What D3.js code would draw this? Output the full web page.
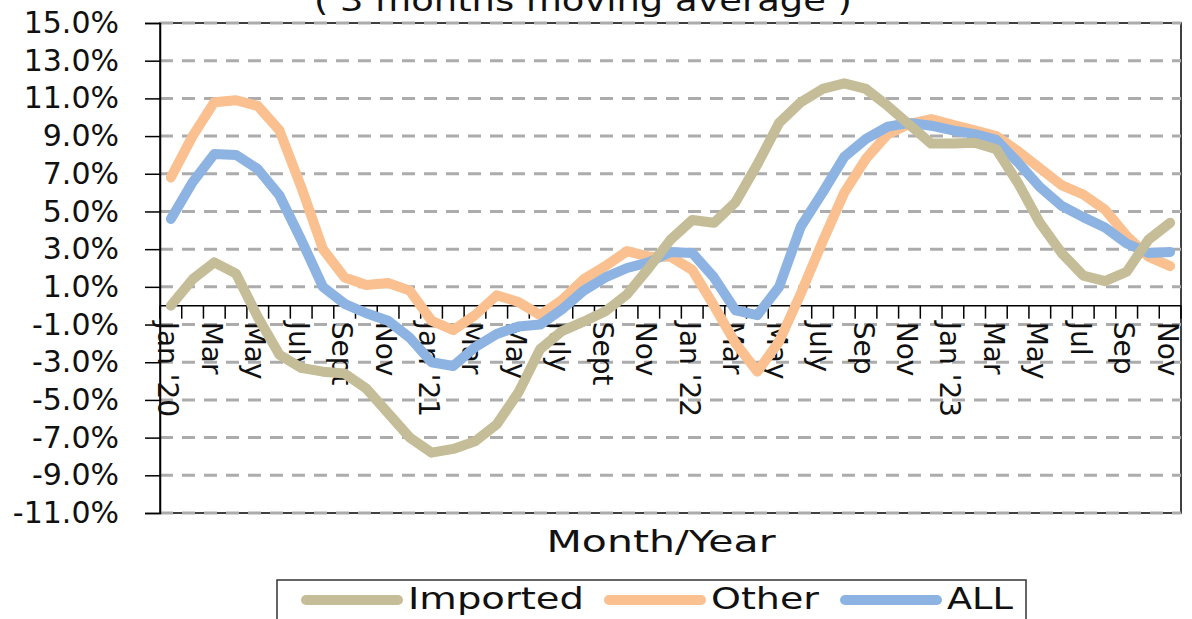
<!DOCTYPE html>
<html>
<head>
<meta charset="utf-8">
<script src="https://cdn.jsdelivr.net/npm/d3@7"></script>
<style>
  html, body { margin: 0; padding: 0; background: #fff; }
  svg { display: block; }
</style>
</head>
<body>
<svg id="chart" width="1192" height="619"></svg>
<script>
// month categories, Jan '20 .. Nov '23 (every other one is labelled)
var months = [
  "Jan '20", "Feb", "Mar", "Apr", "May", "Jun", "July", "Aug", "Sept", "Oct", "Nov", "Dec",
  "Jan '21", "Feb", "Mar", "Apr", "May", "Jun", "July", "Aug", "Sept", "Oct", "Nov", "Dec",
  "Jan '22", "Feb", "Mar", "Apr", "May", "Jun", "July", "Aug", "Sep", "Oct", "Nov", "Dec",
  "Jan '23", "Feb", "Mar", "Apr", "May", "Jun", "Jul", "Aug", "Sep", "Oct", "Nov"
];

// 3 months moving average, in %
var imported = [
  0.0, 1.4, 2.3, 1.7, -0.6, -2.6, -3.3, -3.5, -3.6, -4.4, -5.7, -7.0,
  -7.8, -7.6, -7.2, -6.3, -4.6, -2.3, -1.35, -0.85, -0.3, 0.6, 2.0, 3.5,
  4.55, 4.4, 5.5, 7.5, 9.7, 10.8, 11.5, 11.8, 11.5, 10.6, 9.6, 8.6,
  8.6, 8.65, 8.3, 6.5, 4.4, 2.8, 1.6, 1.3, 1.8, 3.5, 4.4
];
var other = [
  6.8, 9.0, 10.8, 10.9, 10.6, 9.3, 6.3, 3.0, 1.5, 1.1, 1.2, 0.8,
  -0.8, -1.3, -0.5, 0.55, 0.2, -0.5, 0.3, 1.4, 2.1, 2.9, 2.6, 2.6,
  1.9, 0.0, -2.0, -3.5, -1.9, 0.65, 3.4, 6.0, 7.8, 9.1, 9.65, 9.9,
  9.6, 9.3, 9.0, 8.2, 7.3, 6.4, 5.9, 5.1, 3.7, 2.6, 2.1
];
var all = [
  4.6, 6.55, 8.05, 8.0, 7.25, 5.85, 3.5, 1.0, 0.1, -0.4, -0.8, -1.7,
  -3.0, -3.2, -2.2, -1.5, -1.1, -1.0, -0.2, 0.8, 1.5, 2.0, 2.3, 2.85,
  2.8, 1.5, -0.25, -0.5, 1.0, 4.2, 6.0, 7.9, 8.85, 9.5, 9.7, 9.55,
  9.3, 9.1, 8.8, 7.6, 6.3, 5.3, 4.7, 4.15, 3.3, 2.8, 2.85
];

var yTicks = [-11, -9, -7, -5, -3, -1, 1, 3, 5, 7, 9, 11, 13, 15];

var seriesNames = ["Imported", "Other", "ALL"];
var seriesColors = ["#c4bd97", "#fac090", "#8db3e2"];

var FONT = "'DejaVu Sans', sans-serif";

var svg = d3.select("#chart");
// plot box (note: "top" is taken by window.top)
var plotL = 160, plotR = 1181, plotT = 23, plotB = 513;

var x = d3.scaleBand()
    .domain(d3.range(months.length))
    .range([plotL, plotR])
    .paddingInner(0).paddingOuter(0);

var y = d3.scaleLinear()
    .domain([-11, 15])
    .range([plotB, plotT]);

// plot frame
svg.append("rect")
    .attr("x", plotL).attr("y", plotT)
    .attr("width", plotR - plotL).attr("height", plotB - plotT)
    .attr("fill", "#fff")
    .attr("stroke", "#000").attr("stroke-width", 1.5);

// dashed gridlines
svg.append("g").selectAll("line")
  .data(yTicks)
  .join("line")
    .attr("x1", plotL).attr("x2", plotR)
    .attr("y1", function(d) { return y(d); })
    .attr("y2", function(d) { return y(d); })
    .attr("stroke", "#acacac")
    .attr("stroke-width", 3)
    .attr("stroke-dasharray", "13,9");

// y axis, labels with a plain hyphen like the original
var fmt = d3.format(".1f");
var yAxis = svg.append("g")
    .attr("transform", "translate(" + plotL + ",0)")
    .call(d3.axisLeft(y)
      .tickValues(yTicks)
      .tickSize(15)
      .tickPadding(26)
      .tickFormat(function(d) { return fmt(d).replace("\u2212", "-") + "%"; }));
yAxis.select(".domain").attr("stroke", "#000").attr("stroke-width", 1.5);
yAxis.selectAll(".tick line").attr("stroke", "#000").attr("stroke-width", 1.5);
yAxis.selectAll(".tick text")
    .attr("font-family", FONT)
    .attr("font-size", 30)
    .attr("fill", "#111");

// x axis crossing at zero
var zero = y(0);
svg.append("line")
    .attr("x1", plotL).attr("x2", plotR)
    .attr("y1", zero).attr("y2", zero)
    .attr("stroke", "#000").attr("stroke-width", 1.5);

// tick marks between categories
var bounds = d3.range(months.length + 1).map(function(i) {
  return i < months.length ? x(i) : x(months.length - 1) + x.bandwidth();
});
svg.append("g").selectAll("line")
  .data(bounds)
  .join("line")
    .attr("x1", function(d) { return d; })
    .attr("x2", function(d) { return d; })
    .attr("y1", zero).attr("y2", zero + 13)
    .attr("stroke", "#000").attr("stroke-width", 1.5);

// category labels, vertical
var xAxis = svg.append("g")
    .attr("transform", "translate(0," + zero + ")")
    .call(d3.axisBottom(x)
      .tickValues(d3.range(0, months.length, 2))
      .tickSize(0)
      .tickFormat(function(i) { return months[i]; }));
xAxis.select(".domain").remove();
xAxis.selectAll(".tick text")
    .attr("font-family", FONT)
    .attr("font-size", 28)
    .attr("fill", "#111")
    .attr("text-anchor", "start")
    .attr("dominant-baseline", "central")
    .attr("transform", "translate(-3,16) rotate(90)")
    .attr("x", 0).attr("y", 0).attr("dy", null);

// lines
var line = d3.line()
    .x(function(d, i) { return x(i) + x.bandwidth() / 2; })
    .y(function(d) { return y(d); });

var series = [imported, other, all];
[1, 2, 0].forEach(function(k) {
  svg.append("path")
      .datum(series[k])
      .attr("d", line)
      .attr("fill", "none")
      .attr("stroke", seriesColors[k])
      .attr("stroke-width", 10)
      .attr("stroke-linejoin", "round")
      .attr("stroke-linecap", "round");
});

// title, cut off by the top edge
svg.append("text")
    .attr("x", 583).attr("y", 11)
    .attr("text-anchor", "middle")
    .attr("font-family", FONT)
    .attr("font-size", 31)
    .attr("textLength", 538)
    .attr("lengthAdjust", "spacingAndGlyphs")
    .attr("fill", "#111")
    .text("( 3 months moving average )");

// axis title
svg.append("text")
    .attr("x", 661).attr("y", 552)
    .attr("text-anchor", "middle")
    .attr("font-family", FONT)
    .attr("font-size", 31)
    .attr("textLength", 229)
    .attr("lengthAdjust", "spacingAndGlyphs")
    .attr("fill", "#111")
    .text("Month/Year");

// legend
var legendItems = [
  { x: 302, w: 176 },
  { x: 605, w: 108 },
  { x: 841, w: 66 }
];
var legend = svg.append("g");
legend.append("rect")
    .attr("x", 277).attr("y", 580)
    .attr("width", 749).attr("height", 60)
    .attr("fill", "#fff")
    .attr("stroke", "#333").attr("stroke-width", 1.5);
legendItems.forEach(function(it, k) {
  legend.append("line")
      .attr("x1", it.x + 4).attr("x2", it.x + 96)
      .attr("y1", 600).attr("y2", 600)
      .attr("stroke", seriesColors[k])
      .attr("stroke-width", 10)
      .attr("stroke-linecap", "round");
  legend.append("text")
      .attr("x", it.x + 106).attr("y", 609)
      .attr("font-family", FONT)
      .attr("font-size", 30)
      .attr("textLength", it.w)
      .attr("lengthAdjust", "spacingAndGlyphs")
      .attr("fill", "#111")
      .text(seriesNames[k]);
});
</script>
</body>
</html>
